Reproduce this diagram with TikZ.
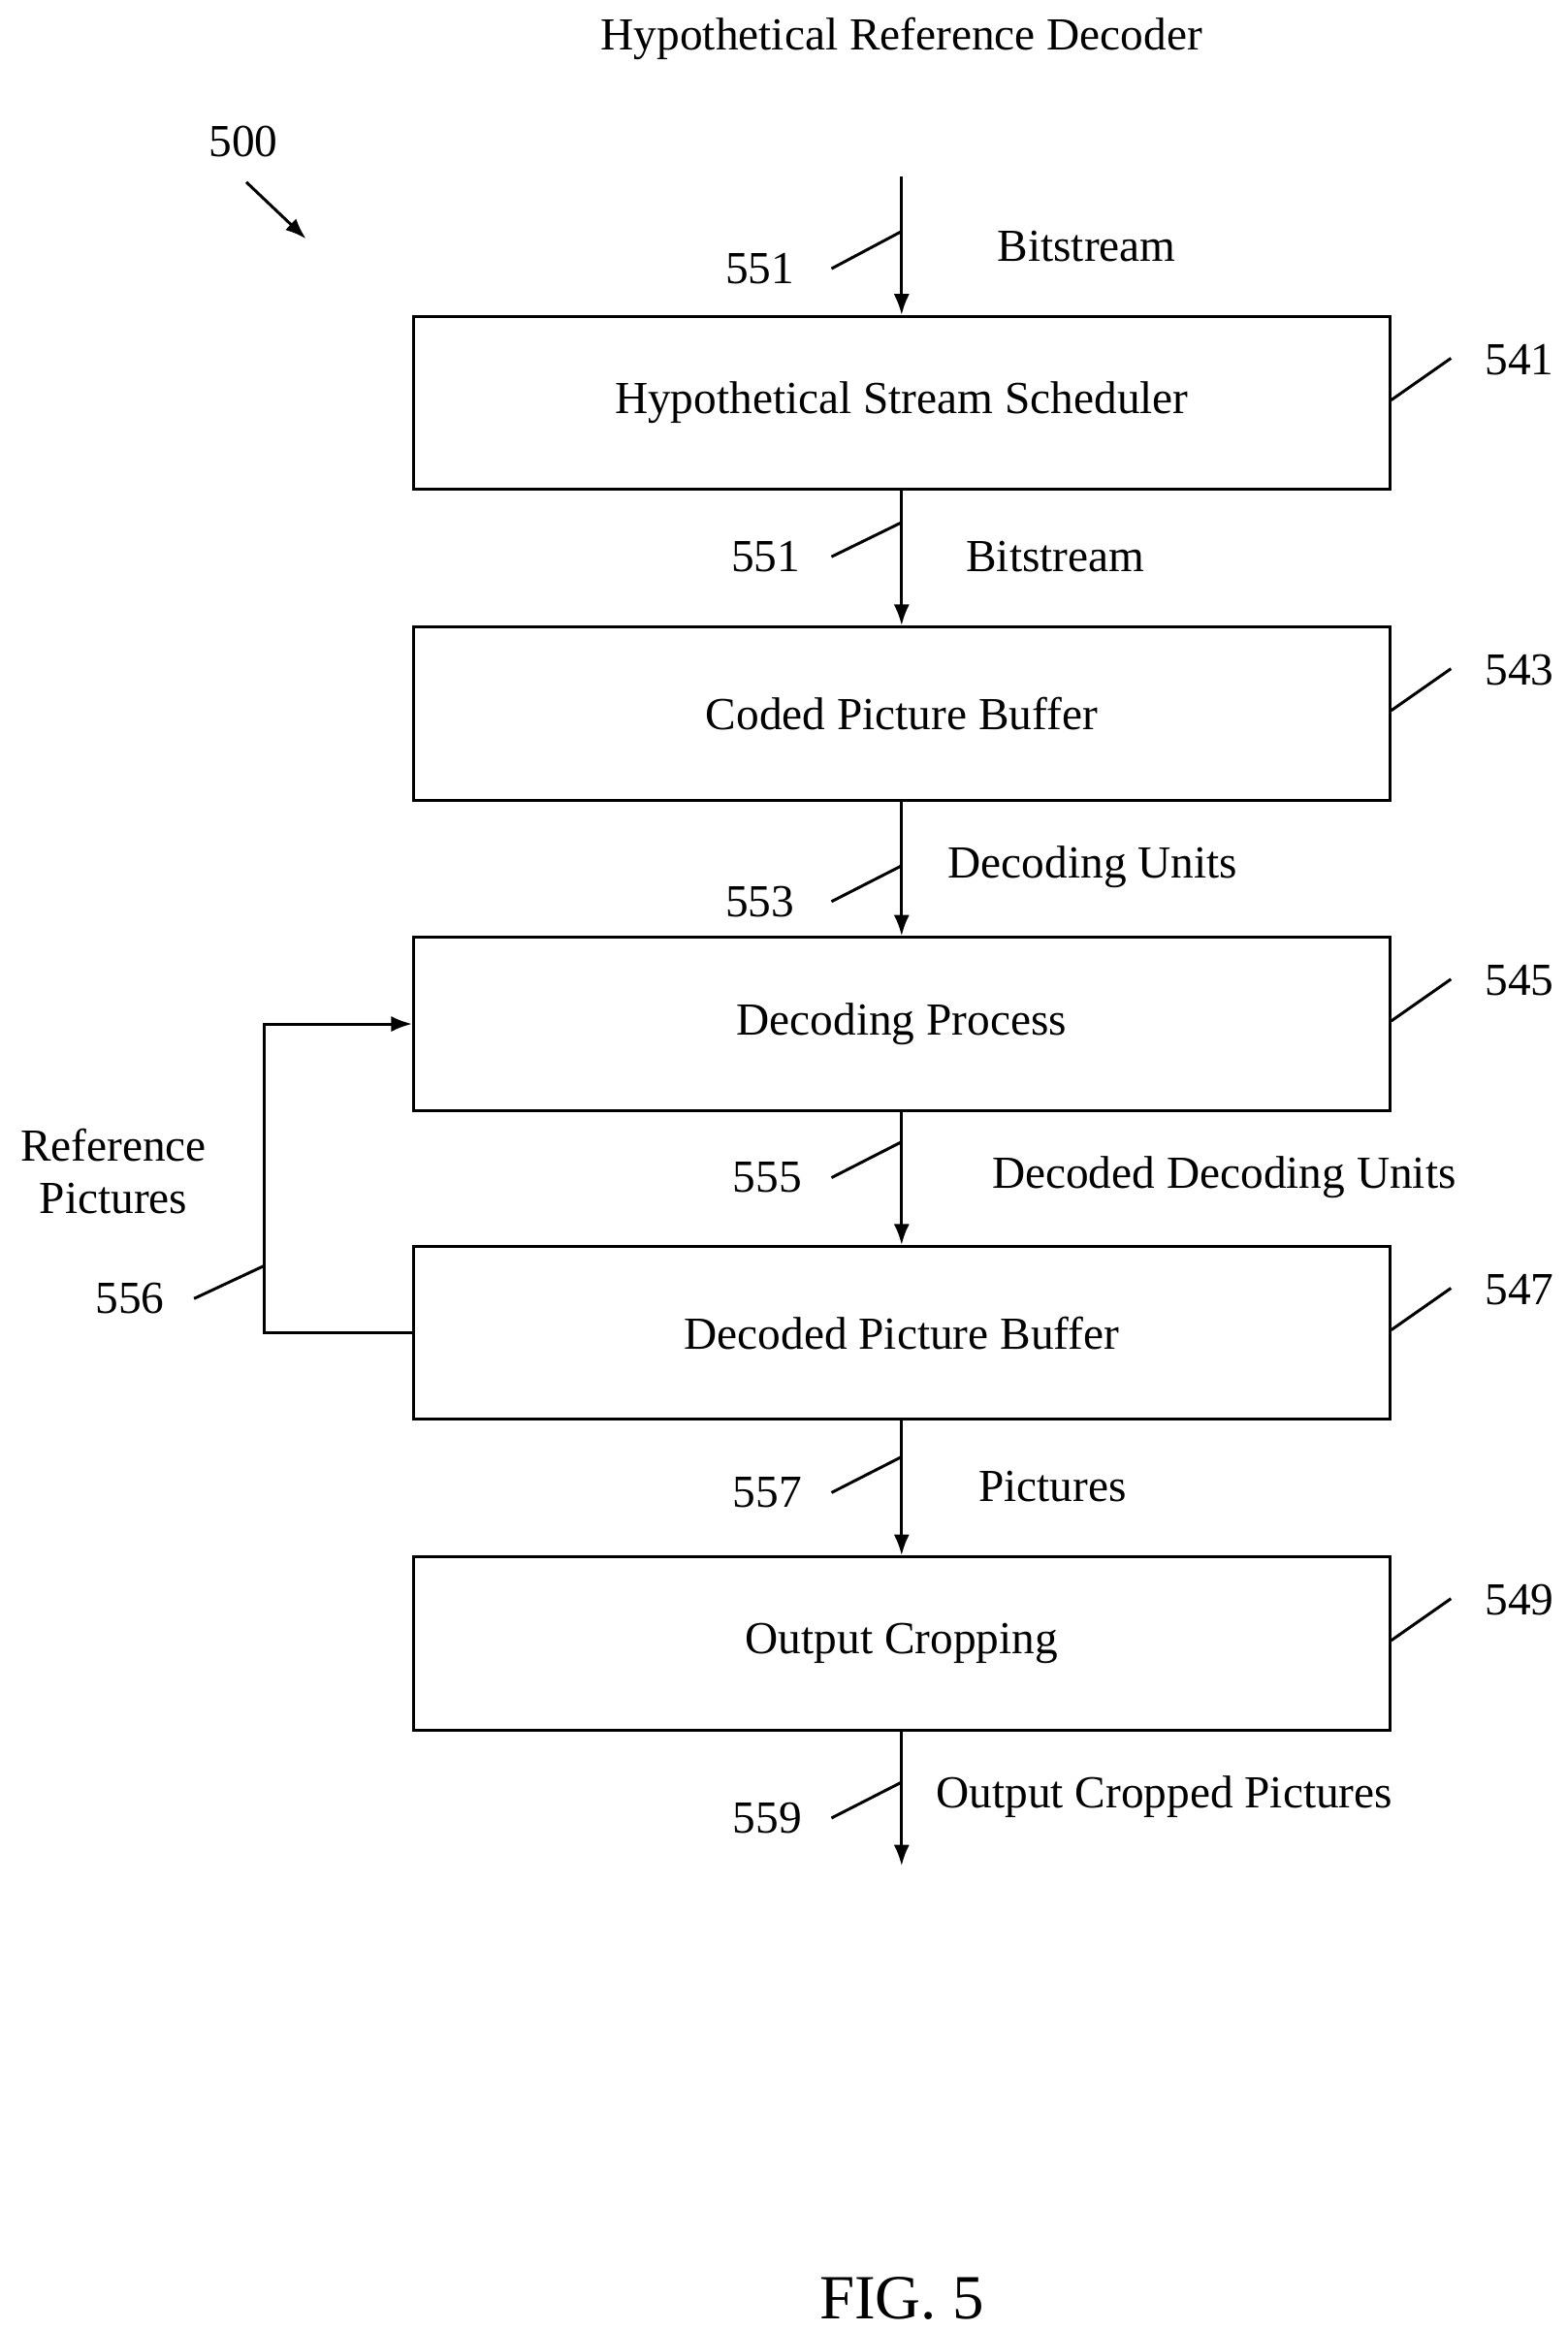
\documentclass[tikz,border=0pt]{standalone}
\usepackage{fontspec}
\setmainfont{Liberation Serif}
\usetikzlibrary{arrows.meta}
\begin{document}
\begin{tikzpicture}[x=0.02cm, y=-0.02cm, line width=1.1pt,
    font=\fontsize{17.5}{20}\selectfont,
    block/.style={draw, minimum width=13.08cm, minimum height=2.32cm, inner sep=0pt},
    flow/.style={-{Latex[length=8pt, width=6pt]}}]
        \useasboundingbox (0, 0) rectangle (1050, 1561);
        \node (title) at (604, 26) {Hypothetical Reference Decoder};
        \node (fig) at (163, 95) {500};
        \draw[flow] (165, 122) -- (205, 160);
        % boxes
        \node[block] (541) at (604, 270) {Hypothetical Stream Scheduler};
        \node[block] (543) at (604, 478) {Coded Picture Buffer};
        \node[block] (545) at (604, 686) {Decoding Process};
        \node[block] (547) at (604, 893) {Decoded Picture Buffer};
        \node[block] (549) at (604, 1101) {Output Cropping};
        \coordinate (in) at (604, 118);
        \coordinate (out) at (604, 1250);
        \draw[flow] (in) -- (541);
        \draw[flow] (541) -- (543);
        \draw[flow] (543) -- (545);
        \draw[flow] (545) -- (547);
        \draw[flow] (547) -- (549);
        \draw[flow] (549) -- (out);
        \draw[flow] (547.west) -- (177, 893) -- (177, 686) -- (545.west);
        % labels on the arrows
        \node (l1) at (728, 165) {Bitstream};
        \node (l2) at (707, 373) {Bitstream};
        \node (l3) at (732, 581) {Decoding Units};
        \node (l4) at (820, 789) {Decoded Decoding Units};
        \node (l5) at (705, 996) {Pictures};
        \node (l6) at (780, 1204) {Output Cropped Pictures};
        \node[align=center] (ref) at (76, 785) {Reference\\Pictures};
        % reference numerals
        \node (n551a) at (509, 180) {551};
        \draw (557, 180) -- (604, 155);
        \node (n551b) at (513, 373) {551};
        \draw (557, 373) -- (604, 350);
        \node (n553) at (509, 604) {553};
        \draw (557, 604) -- (604, 580);
        \node (n555) at (514, 789) {555};
        \draw (557, 789) -- (604, 765);
        \node (n557) at (514, 1000) {557};
        \draw (557, 1000) -- (604, 976);
        \node (n559) at (514, 1218) {559};
        \draw (557, 1218) -- (604, 1194);
        \node (n556) at (87, 870) {556};
        \draw (130, 870) -- (177, 848);
        \foreach \n/\y in {541/270, 543/478, 545/686, 547/893, 549/1101} {
            \node at (1018, \y-29) {\n};
            \draw (932, \y-2) -- (972, \y-30);
        }
        \node[font=\fontsize{24}{28}\selectfont] (cap) at (604, 1540) {FIG. 5};
    \end{tikzpicture}
\end{document}
